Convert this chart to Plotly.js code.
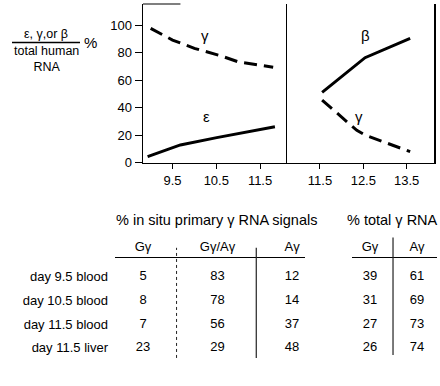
<!DOCTYPE html>
<html>
<head>
<meta charset="utf-8">
<script src="https://cdn.plot.ly/plotly-3.0.1.min.js"></script>
<style>html,body{margin:0;padding:0;background:#fff;}#chart{width:440px;height:386px;}</style>
</head>
<body>
<div id="chart"></div>
<script>
// ---- line chart data (day of development vs % of total human RNA) ----
var yTicks = [0, 20, 40, 60, 80, 100];
var leftXTicks = [9.5, 10.5, 11.5];
var leftXTickText = ['9.5', '10.5', '11.5'];
var rightXTicks = [11.5, 12.5, 13.5];
var rightXTickText = ['11.5', '12.5', '13.5'];

var gammaLeftX = [9.0, 9.5, 10.0, 10.6, 11.0, 11.8];
var gammaLeftY = [97.6, 89.1, 83.1, 77.7, 73.3, 69.3];
var epsilonX = [8.93, 9.68, 10.51, 11.84];
var epsilonY = [4.4, 12.9, 18.2, 26.1];
var betaX = [11.55, 12.54, 13.58];
var betaY = [51.1, 76.3, 90.3];
var gammaRightX = [11.55, 12.35, 12.54, 13.58];
var gammaRightY = [45.5, 23.5, 20.1, 8.0];

// ---- table data ----
var rowLabels = ['day 9.5 blood', 'day 10.5 blood', 'day 11.5 blood', 'day 11.5 liver'];
var insituCols = ['Gγ', 'Gγ/Aγ', 'Aγ'];
var insituGg = [5, 8, 7, 23];
var insituGgAg = [83, 78, 56, 29];
var insituAg = [12, 14, 37, 48];
var totalCols = ['Gγ', 'Aγ'];
var totalGg = [39, 31, 27, 26];
var totalAg = [61, 69, 73, 74];
var insituTitle = '% in situ primary γ RNA signals';
var totalTitle = '% total γ RNA';

var FONT = '"Liberation Sans", Arial, Helvetica, sans-serif';
var INK = '#000';

function tableTrace(cols, colVals, xa, ya) {
  var xs = [], ys = [], ts = [];
  for (var c = 0; c < cols.length; c++) {
    for (var r = 0; r < rowLabels.length; r++) {
      xs.push(cols[c]); ys.push(rowLabels[r]); ts.push(String(colVals[c][r]));
    }
  }
  return {type: 'scatter', mode: 'text', x: xs, y: ys, text: ts, xaxis: xa, yaxis: ya,
    textposition: 'middle center', textfont: {family: FONT, size: 13, color: INK},
    hoverinfo: 'skip', showlegend: false, cliponaxis: false};
}

var lineW = 3;
var traces = [
  {type: 'scatter', mode: 'lines', x: gammaLeftX, y: gammaLeftY, xaxis: 'x', yaxis: 'y',
   line: {color: INK, width: lineW, dash: '13px,7px'}, showlegend: false, hoverinfo: 'skip'},
  {type: 'scatter', mode: 'lines', x: epsilonX, y: epsilonY, xaxis: 'x', yaxis: 'y',
   line: {color: INK, width: lineW}, showlegend: false, hoverinfo: 'skip'},
  {type: 'scatter', mode: 'lines', x: betaX, y: betaY, xaxis: 'x2', yaxis: 'y2',
   line: {color: INK, width: lineW}, showlegend: false, hoverinfo: 'skip'},
  {type: 'scatter', mode: 'lines', x: gammaRightX, y: gammaRightY, xaxis: 'x2', yaxis: 'y2',
   line: {color: INK, width: lineW, dash: '13px,7px'}, showlegend: false, hoverinfo: 'skip'},
  tableTrace(insituCols, [insituGg, insituGgAg, insituAg], 'x3', 'y3'),
  tableTrace(totalCols, [totalGg, totalAg], 'x4', 'y4')
];

var H = 386, W = 440;
function py(px) { return 1 - px / H; }
function pxx(px) { return px / W; }

var plotDomY = [py(162.7), py(4)];
var tickFont = {family: FONT, size: 13, color: INK};
var tableDomY = [py(360), py(258)];

var layout = {
  width: W, height: H,
  margin: {l: 0, r: 0, t: 0, b: 0, pad: 0},
  paper_bgcolor: '#fff', plot_bgcolor: 'rgba(0,0,0,0)',
  font: {family: FONT, color: INK},
  showlegend: false,
  xaxis: {domain: [pxx(143), pxx(287)], range: [8.825, 12.116], anchor: 'y',
    tickmode: 'array', tickvals: leftXTicks, ticktext: leftXTickText,
    ticks: 'outside', ticklen: 5, tickwidth: 1, tickcolor: INK,
    showline: true, linecolor: INK, linewidth: 1.5, showgrid: false, zeroline: false,
    tickfont: tickFont, fixedrange: true},
  yaxis: {domain: plotDomY, range: [0, 115.3], anchor: 'x',
    tickmode: 'array', tickvals: yTicks,
    ticks: 'outside', ticklen: 7, tickwidth: 1, tickcolor: INK,
    showline: true, linecolor: INK, linewidth: 1.5, showgrid: false, zeroline: false,
    tickfont: tickFont, fixedrange: true},
  xaxis2: {domain: [pxx(287), pxx(434)], range: [10.74, 14.13], anchor: 'y2',
    tickmode: 'array', tickvals: rightXTicks, ticktext: rightXTickText,
    ticks: 'outside', ticklen: 5, tickwidth: 1, tickcolor: INK,
    showline: true, linecolor: INK, linewidth: 1.5, showgrid: false, zeroline: false,
    tickfont: tickFont, fixedrange: true},
  yaxis2: {domain: plotDomY, range: [0, 115.3], anchor: 'x2',
    showticklabels: false, ticks: '',
    showline: true, mirror: true, linecolor: INK, linewidth: 1.5, showgrid: false, zeroline: false,
    fixedrange: true},
  xaxis3: {domain: [pxx(115), pxx(305)], type: 'category', categoryarray: insituCols,
    range: [-0.376, 2.174], anchor: 'y3', side: 'top', ticks: '',
    showline: true, linecolor: INK, linewidth: 1, showgrid: false, zeroline: false,
    tickfont: tickFont, ticklabelstandoff: 1, fixedrange: true},
  yaxis3: {domain: tableDomY, type: 'category', categoryarray: rowLabels,
    range: [3.51, -0.80], anchor: 'x3', ticks: '', showline: false, showgrid: false, zeroline: false,
    tickfont: tickFont, ticklabelstandoff: 6, fixedrange: true},
  xaxis4: {domain: [pxx(352), pxx(437)], type: 'category', categoryarray: totalCols,
    range: [-0.383, 1.426], anchor: 'y4', side: 'top', ticks: '',
    showline: true, linecolor: INK, linewidth: 1, showgrid: false, zeroline: false,
    tickfont: tickFont, ticklabelstandoff: 1, fixedrange: true},
  yaxis4: {domain: tableDomY, type: 'category', categoryarray: rowLabels,
    range: [3.51, -0.80], anchor: 'x4', showticklabels: false, ticks: '',
    showline: false, showgrid: false, zeroline: false, fixedrange: true},
  annotations: [
    {xref: 'x', yref: 'y', x: 10.25, y: 92.2, text: 'γ', showarrow: false, font: {size: 15, color: INK}},
    {xref: 'x', yref: 'y', x: 10.28, y: 33.4, text: 'ε', showarrow: false, font: {size: 15, color: INK}},
    {xref: 'x2', yref: 'y2', x: 12.54, y: 92.7, text: 'β', showarrow: false, font: {size: 15, color: INK}},
    {xref: 'x2', yref: 'y2', x: 12.40, y: 33.4, text: 'γ', showarrow: false, font: {size: 15, color: INK}},
    {xref: 'paper', yref: 'paper', x: pxx(46), y: py(42), text: 'ε, γ,or β', showarrow: false,
     font: {size: 12.5, color: INK}, xanchor: 'center', yanchor: 'bottom', borderpad: 0},
    {xref: 'paper', yref: 'paper', x: pxx(46), y: py(43), text: 'total human<br>RNA', showarrow: false,
     font: {size: 12.5, color: INK}, xanchor: 'center', yanchor: 'top', borderpad: 0},
    {xref: 'paper', yref: 'paper', x: pxx(90), y: py(42.5), text: '%', showarrow: false,
     font: {size: 15, color: INK}, xanchor: 'center', yanchor: 'middle'},
    {xref: 'x3 domain', yref: 'paper', x: 0.535, y: py(220), text: insituTitle, showarrow: false,
     font: {size: 14.5, color: INK}, xanchor: 'center', yanchor: 'middle'},
    {xref: 'x4 domain', yref: 'paper', x: 0.476, y: py(220), text: totalTitle, showarrow: false,
     font: {size: 14.5, color: INK}, xanchor: 'center', yanchor: 'middle'}
  ],
  shapes: [
    {type: 'line', xref: 'paper', yref: 'paper', x0: pxx(12), x1: pxx(80), y0: py(42.5), y1: py(42.5),
     line: {color: INK, width: 1.3}},
    {type: 'line', xref: 'x domain', yref: 'y domain', x0: 0, x1: 0.26, y0: 1, y1: 1,
     line: {color: INK, width: 1.2}},
    {type: 'line', xref: 'x3', yref: 'y3 domain', x0: 0.45, x1: 0.45, y0: 0.02, y1: 1.1,
     line: {color: '#222', width: 1, dash: 'dot'}},
    {type: 'line', xref: 'x3', yref: 'y3 domain', x0: 1.52, x1: 1.52, y0: 0.02, y1: 1.1,
     line: {color: '#222', width: 1.2}},
    {type: 'line', xref: 'x4', yref: 'y4 domain', x0: 0.49, x1: 0.49, y0: 0.05, y1: 1.2,
     line: {color: '#222', width: 1.2}}
  ]
};

Plotly.newPlot('chart', traces, layout, {staticPlot: true, displayModeBar: false});
</script>
</body>
</html>
